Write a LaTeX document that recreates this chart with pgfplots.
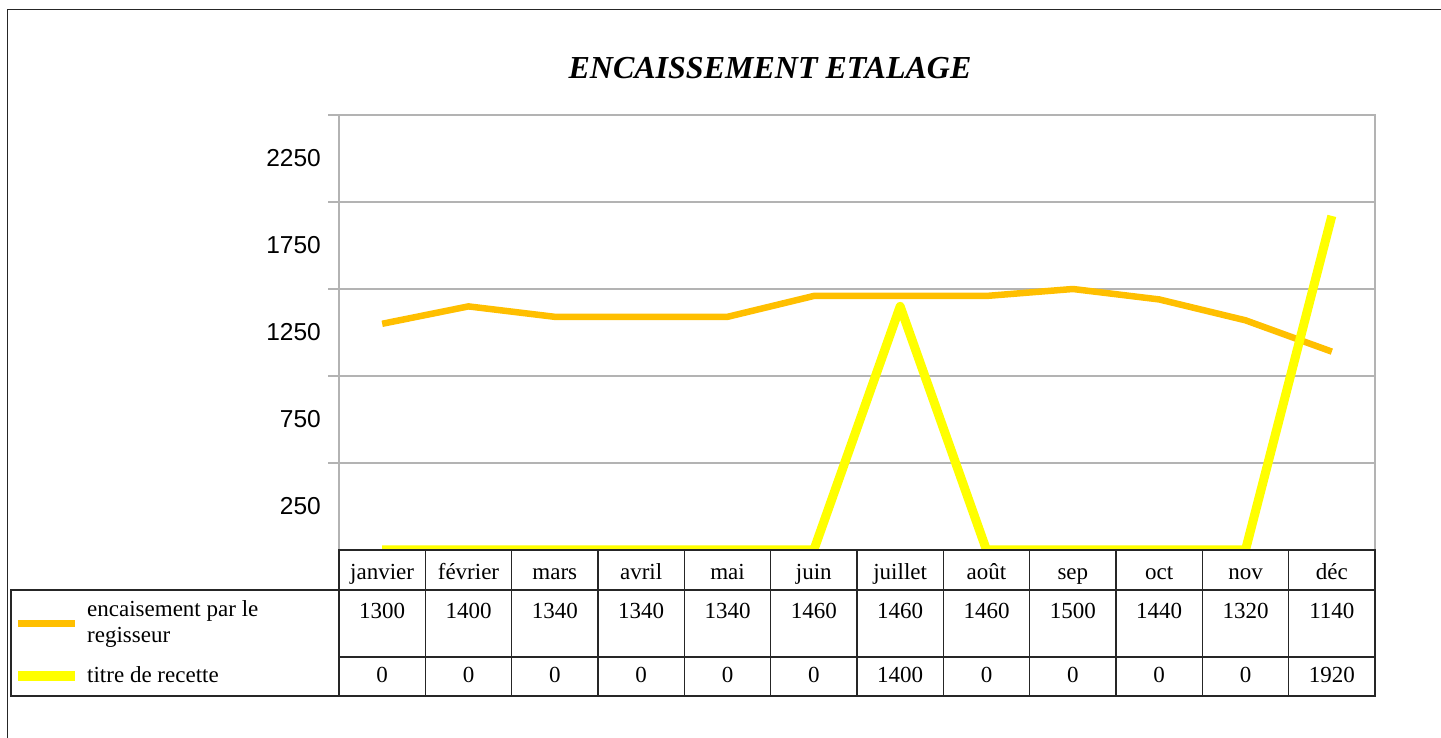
\documentclass[border=0pt]{standalone}
\usepackage{fontspec}
\setmainfont{Liberation Serif}
\setsansfont{Liberation Sans}
\usepackage{pgfplots}
\pgfplotsset{compat=1.18}
\definecolor{encOrange}{RGB}{255,191,0}
\definecolor{titreYellow}{RGB}{255,255,0}
\definecolor{gridGray}{RGB}{179,179,179}

\newcommand{\tabfont}{\fontsize{23}{26}\selectfont}

\begin{document}
\begin{tikzpicture}[x=1pt,y=1pt]
\path[use as bounding box] (0,0) rectangle (1441,738);
% outer frame (only top and left show)
\draw[line width=1.4pt, black!85] (7.3,0) -- (7.3,728.7) -- (1441,728.7);

\node[font=\fontsize{32}{38}\selectfont\bfseries\itshape] at (770,670) {ENCAISSEMENT ETALAGE};

\begin{axis}[
  scale only axis, width=1036pt, height=435pt,
  at={(339pt,188pt)}, anchor=south west,
  xmin=0.5, xmax=12.5, ymin=0, ymax=2500,
  axis line style={gridGray, line width=1.2pt},
  xtick=\empty,
  ytick pos=left,
  ytick={250,750,1250,1750,2250},
  yticklabels={250,750,1250,1750,2250},
  major tick length=0pt,
  yticklabel style={font=\sffamily\fontsize{24.5}{28}\selectfont, inner sep=0pt, xshift=-18pt},
  extra y ticks={500,1000,1500,2000,2500},
  extra y tick labels={},
  extra y tick style={grid=major, tick align=outside, major tick length=11pt,
    tick style={gridGray, line width=1.2pt},
    major grid style={gridGray, line width=1.2pt}},
]
% encaisement par le regisseur
\addplot[encOrange, line width=6.5pt, line join=round, mark=none] coordinates {
  (1,1300)(2,1400)(3,1340)(4,1340)(5,1340)(6,1460)(7,1460)(8,1460)(9,1500)(10,1440)(11,1320)(12,1140)
};
% titre de recette
\addplot[titreYellow, line width=9pt, line join=round, mark=none] coordinates {
  (1,0)(2,0)(3,0)(4,0)(5,0)(6,0)(7,1400)(8,0)(9,0)(10,0)(11,0)(12,1920)
};
\end{axis}

% data table
\begin{scope}[line width=1.2pt, black!85]
\draw (339,188) rectangle (1375,42);
\draw (339,148) -- (1375,148);
\draw (339,81) -- (1375,81);
\foreach \i in {1,...,11} \draw ({339+86.333*\i},188) -- ({339+86.333*\i},42);
\draw (11,148) rectangle (339,42);
\end{scope}

\foreach \m [count=\k] in {janvier,février,mars,avril,mai,juin,juillet,août,sep,oct,nov,déc}
  \node[anchor=base, font=\tabfont, inner sep=0pt] at ({339+86.333*(\k-0.5)},158) {\m};
\foreach \v [count=\k] in {1300,1400,1340,1340,1340,1460,1460,1460,1500,1440,1320,1140}
  \node[anchor=base, font=\tabfont, inner sep=0pt] at ({339+86.333*(\k-0.5)},119) {\v};
\foreach \v [count=\k] in {0,0,0,0,0,0,1400,0,0,0,0,1920}
  \node[anchor=base, font=\tabfont, inner sep=0pt] at ({339+86.333*(\k-0.5)},55) {\v};

% legend
\fill[encOrange] (18,111) rectangle (75,118);
\fill[titreYellow] (18,57) rectangle (75,67);
\node[anchor=base west, font=\tabfont, inner sep=0pt] at (87,121) {encaisement par le};
\node[anchor=base west, font=\tabfont, inner sep=0pt] at (87,95) {regisseur};
\node[anchor=base west, font=\tabfont, inner sep=0pt] at (87,55) {titre de recette};
\end{tikzpicture}
\end{document}
